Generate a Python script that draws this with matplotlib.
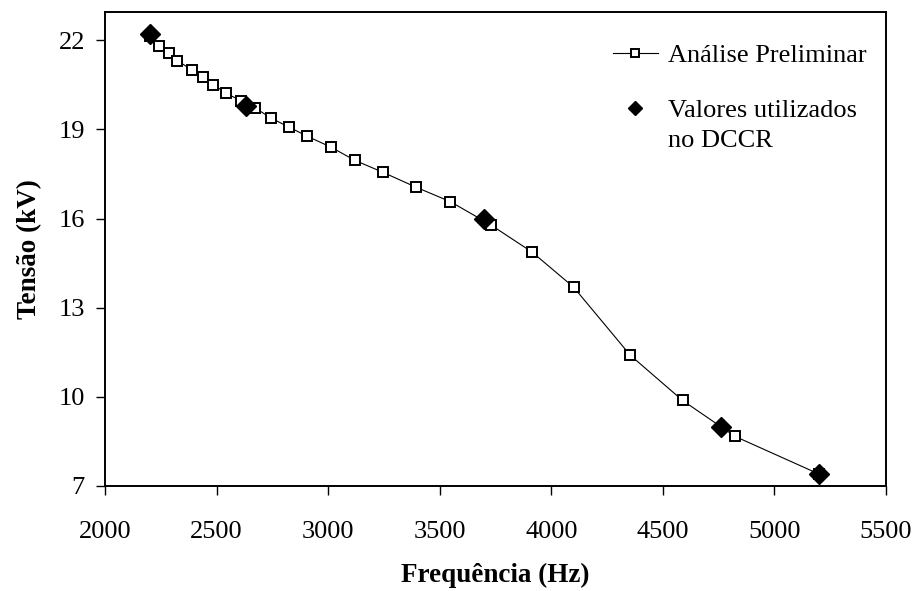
import matplotlib
matplotlib.use("Agg")
import matplotlib.pyplot as plt

# Preliminary analysis (square markers, connected line)
freq_prelim = [2200, 2242, 2288, 2324, 2388, 2438, 2485, 2541, 2608, 2671,
               2744, 2826, 2906, 3013, 3119, 3247, 3395, 3547, 3728, 3914,
               4100, 4354, 4588, 4823, 5200]
volt_prelim = [22.15, 21.79, 21.56, 21.31, 21.01, 20.76, 20.51, 20.22, 19.97, 19.73,
               19.38, 19.07, 18.77, 18.40, 17.96, 17.55, 17.05, 16.57, 15.79, 14.87,
               13.69, 11.40, 9.88, 8.67, 7.40]

# Values used in the DCCR (filled diamonds)
freq_dccr = [2200, 2632, 3700, 4760, 5200]
volt_dccr = [22.2, 19.8, 16.0, 9.0, 7.4]

plt.rcParams['font.family'] = ['Liberation Serif', 'DejaVu Serif']

fig = plt.figure(figsize=(9.15, 5.91), dpi=100)
ax = fig.add_axes([0.1148, 0.1777, 0.8535, 0.802])

ax.plot(freq_prelim, volt_prelim, color='black', linewidth=0.8,
        marker='s', markersize=7.5, markerfacecolor='white',
        markeredgecolor='black', markeredgewidth=1.4,
        label='Análise Preliminar')
ax.plot(freq_dccr, volt_dccr, linestyle='none', marker='D', markersize=10,
        color='black', label='Valores utilizados')

ax.set_xlim(2000, 5500)
ax.set_ylim(7, 22.95)
ax.set_xticks([2000, 2500, 3000, 3500, 4000, 4500, 5000, 5500])
ax.set_yticks([7, 10, 13, 16, 19, 22])
ax.tick_params(direction='out', length=6.5, width=1, labelsize=19)
ax.tick_params(axis='x', pad=19)
ax.tick_params(axis='y', pad=8)

for s in ax.spines.values():
    s.set_linewidth(1.4)

ax.set_xlabel('Frequência (Hz)', fontsize=19.5, fontweight='bold', va='center')
ax.set_ylabel('Tensão (kV)', fontsize=19.5, fontweight='bold', va='center')
ax.xaxis.set_label_coords(0.5, -0.188)
ax.yaxis.set_label_coords(-0.096, 0.5)

leg = ax.legend(loc='upper left', bbox_to_anchor=(0.656, 0.949),
                bbox_transform=fig.transFigure, frameon=False, borderpad=0,
                fontsize=19, handlelength=1.67, handletextpad=0.38,
                labelspacing=1.2, markerscale=0.75)

# second line of the DCCR legend label, under "Valores utilizados"
fig.canvas.draw()
bb = leg.get_texts()[1].get_window_extent()
fig.text(bb.x0 / fig.bbox.width, (bb.y0 - 30) / fig.bbox.height, 'no DCCR',
         fontsize=19, ha='left', va='bottom')

fig.savefig('out.png', dpi=100)
